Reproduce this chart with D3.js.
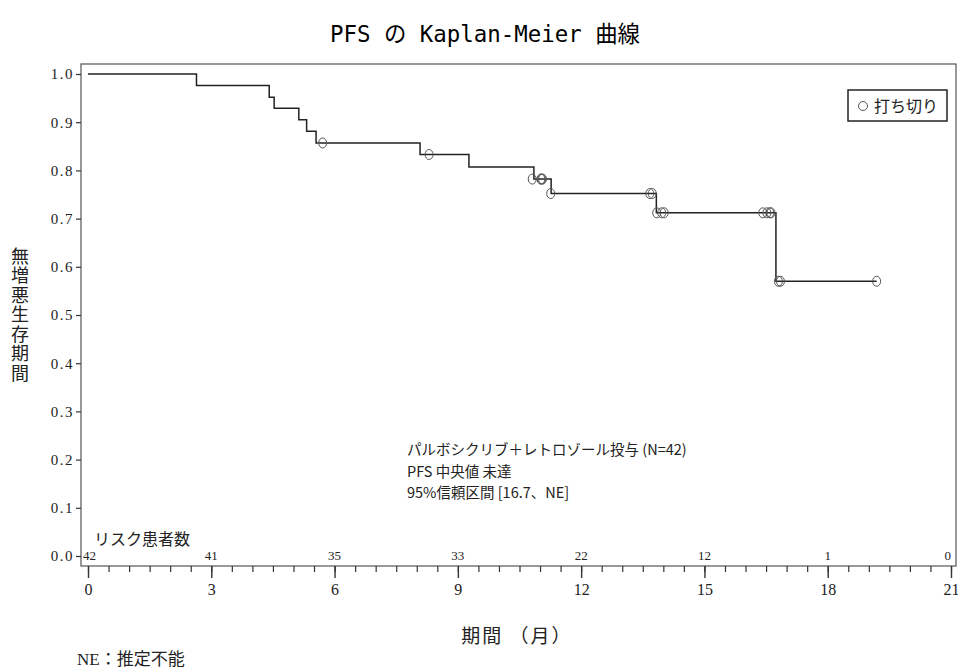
<!DOCTYPE html>
<html>
<head>
<meta charset="utf-8">
<script src="https://cdn.jsdelivr.net/npm/d3@7"></script>
<style>
body { margin: 0; background: #fff; }
</style>
</head>
<body>
<script>
"use strict"
// event times (months) and survival after each drop
const eventTimes = [2.64, 4.41, 4.53, 5.13, 5.32, 5.55, 8.08, 9.27, 10.85, 11.27, 13.83, 16.74];
const eventSurv  = [0.976, 0.952, 0.929, 0.905, 0.881, 0.857, 0.833, 0.807, 0.782, 0.752, 0.712, 0.570];
const lastTime = 19.19;

// censored observations
const censorTimes = [5.71, 8.30, 10.81, 11.02, 11.04, 11.06, 11.26, 13.67, 13.73, 13.84, 13.96, 14.02, 16.42, 16.52, 16.59, 16.62, 16.80, 16.85, 19.19];
const censorSurv  = [0.857, 0.833, 0.782, 0.782, 0.782, 0.782, 0.752, 0.752, 0.752, 0.712, 0.712, 0.712, 0.712, 0.712, 0.712, 0.712, 0.570, 0.570, 0.570];

const riskTimes  = [0, 3, 6, 9, 12, 15, 18, 21];
const riskCounts = [42, 41, 35, 33, 22, 12, 1, 0];

const xTicks = [0, 3, 6, 9, 12, 15, 18, 21];
const yTicks = [0, 0.1, 0.2, 0.3, 0.4, 0.5, 0.6, 0.7, 0.8, 0.9, 1.0];

const infoLines = ['パルボシクリブ＋レトロゾール投与 (N=42)', 'PFS 中央値 未達', '95%信頼区間 [16.7、NE]'];

const w = 958, h = 670;
const frame = {left: 81, top: 64, right: 956, bottom: 566};
const serif = '"Liberation Serif", "Noto Sans CJK JP", serif';
const jp = '"Noto Sans CJK JP", sans-serif';

const svg = d3.select('body')
	.append('svg')
	.attr('width', w)
	.attr('height', h)
	.style('display', 'block');

const xScale = d3.scaleLinear().domain([0, 21]).range([88, 951]);
const yScale = d3.scaleLinear().domain([0, 1]).range([556, 74]);

// title
svg.append('text')
	.attr('x', 485)
	.attr('y', 42)
	.attr('text-anchor', 'middle')
	.attr('font-family', '"DejaVu Sans Mono", "Noto Sans CJK JP", monospace')
	.attr('font-size', 23)
	.attr('textLength', 310)
	.attr('lengthAdjust', 'spacingAndGlyphs')
	.text('PFS の Kaplan-Meier 曲線');

// frame
svg.append('rect')
	.attr('x', frame.left)
	.attr('y', frame.top)
	.attr('width', frame.right - frame.left)
	.attr('height', frame.bottom - frame.top)
	.attr('fill', 'none')
	.attr('stroke', '#555')
	.attr('stroke-width', 1.2);

// y axis
const yAxis = d3.axisLeft(yScale)
	.tickValues(yTicks)
	.tickSize(5)
	.tickFormat(d3.format('.1f'));
const gy = svg.append('g')
	.attr('transform', 'translate(' + frame.left + ',0)')
	.call(yAxis);
gy.select('.domain').remove();
gy.selectAll('.tick line').attr('stroke', '#333').attr('stroke-width', 1.2);
gy.selectAll('.tick text')
	.attr('font-family', serif)
	.attr('font-size', 15)
	.attr('fill', '#222')
	.attr('x', -7)
	.attr('letter-spacing', 1.5);

// x axis, major and minor ticks hang below the frame
const xMinor = d3.axisBottom(xScale)
	.tickValues(d3.range(0, 21.01, 0.5))
	.tickSize(6)
	.tickFormat('');
const gxm = svg.append('g')
	.attr('transform', 'translate(0,' + frame.bottom + ')')
	.call(xMinor);
gxm.select('.domain').remove();
gxm.selectAll('.tick line').attr('stroke', '#333').attr('stroke-width', 1.2);

const xAxis = d3.axisBottom(xScale)
	.tickValues(xTicks)
	.tickSize(12)
	.tickPadding(6);
const gx = svg.append('g')
	.attr('transform', 'translate(0,' + frame.bottom + ')')
	.call(xAxis);
gx.select('.domain').remove();
gx.selectAll('.tick line').attr('stroke', '#333').attr('stroke-width', 1.4);
gx.selectAll('.tick text')
	.attr('font-family', serif)
	.attr('font-size', 16)
	.attr('fill', '#222');

// axis titles
svg.append('text')
	.attr('x', 20)
	.attr('y', 315)
	.attr('text-anchor', 'middle')
	.style('writing-mode', 'vertical-rl')
	.style('text-orientation', 'upright')
	.attr('letter-spacing', 1.5)
	.attr('font-family', jp)
	.attr('font-size', 18)
	.attr('fill', '#222')
	.text('無増悪生存期間');

svg.append('text')
	.attr('x', 517)
	.attr('y', 643)
	.attr('text-anchor', 'middle')
	.attr('font-family', jp)
	.attr('font-size', 19)
	.attr('letter-spacing', 2)
	.attr('fill', '#222')
	.text('期間 （月）');

svg.append('text')
	.attr('x', 77)
	.attr('y', 665)
	.attr('font-family', serif)
	.attr('font-size', 17)
	.attr('fill', '#222')
	.text('NE：推定不能');

// KM step curve
const steps = [{t: 0, s: 1}]
	.concat(eventTimes.map((t, i) => ({t: t, s: eventSurv[i]})))
	.concat([{t: lastTime, s: eventSurv[eventSurv.length - 1]}]);

const line = d3.line()
	.x(d => xScale(d.t))
	.y(d => yScale(d.s))
	.curve(d3.curveStepAfter);

svg.append('path')
	.datum(steps)
	.attr('d', line)
	.attr('fill', 'none')
	.attr('stroke', '#222')
	.attr('stroke-width', 1.5);

// censor marks
svg.selectAll('ellipse.censor')
	.data(censorTimes)
	.enter()
	.append('ellipse')
	.attr('class', 'censor')
	.attr('cx', d => xScale(d))
	.attr('cy', (d, i) => yScale(censorSurv[i]))
	.attr('rx', 4)
	.attr('ry', 5)
	.attr('fill', 'none')
	.attr('stroke', '#555')
	.attr('stroke-width', 1);

// legend
svg.append('rect')
	.attr('x', 848)
	.attr('y', 90)
	.attr('width', 99)
	.attr('height', 31)
	.attr('fill', '#fff')
	.attr('stroke', '#222')
	.attr('stroke-width', 1.5);
svg.append('circle')
	.attr('cx', 863)
	.attr('cy', 106)
	.attr('r', 4.5)
	.attr('fill', 'none')
	.attr('stroke', '#555');
svg.append('text')
	.attr('x', 874)
	.attr('y', 112)
	.attr('font-family', jp)
	.attr('font-size', 16)
	.attr('fill', '#222')
	.text('打ち切り');

// median / CI annotation
svg.selectAll('text.info')
	.data(infoLines)
	.enter()
	.append('text')
	.attr('class', 'info')
	.attr('x', 407)
	.attr('y', (d, i) => 455 + i * 21.5)
	.attr('font-family', jp)
	.attr('font-size', 14.5)
	.attr('fill', '#222')
	.text(d => d);

// numbers at risk
svg.append('text')
	.attr('x', 94)
	.attr('y', 545)
	.attr('font-family', jp)
	.attr('font-size', 16)
	.attr('fill', '#222')
	.text('リスク患者数');

svg.selectAll('text.risk')
	.data(riskCounts)
	.enter()
	.append('text')
	.attr('class', 'risk')
	.attr('x', (d, i) => i === 0 ? 83 : (i === riskCounts.length - 1 ? 951 : xScale(riskTimes[i])))
	.attr('y', 560)
	.attr('text-anchor', (d, i) => i === 0 ? 'start' : (i === riskCounts.length - 1 ? 'end' : 'middle'))
	.attr('font-family', serif)
	.attr('font-size', 13)
	.attr('fill', '#222')
	.text(d => d);
</script>
</body>
</html>
